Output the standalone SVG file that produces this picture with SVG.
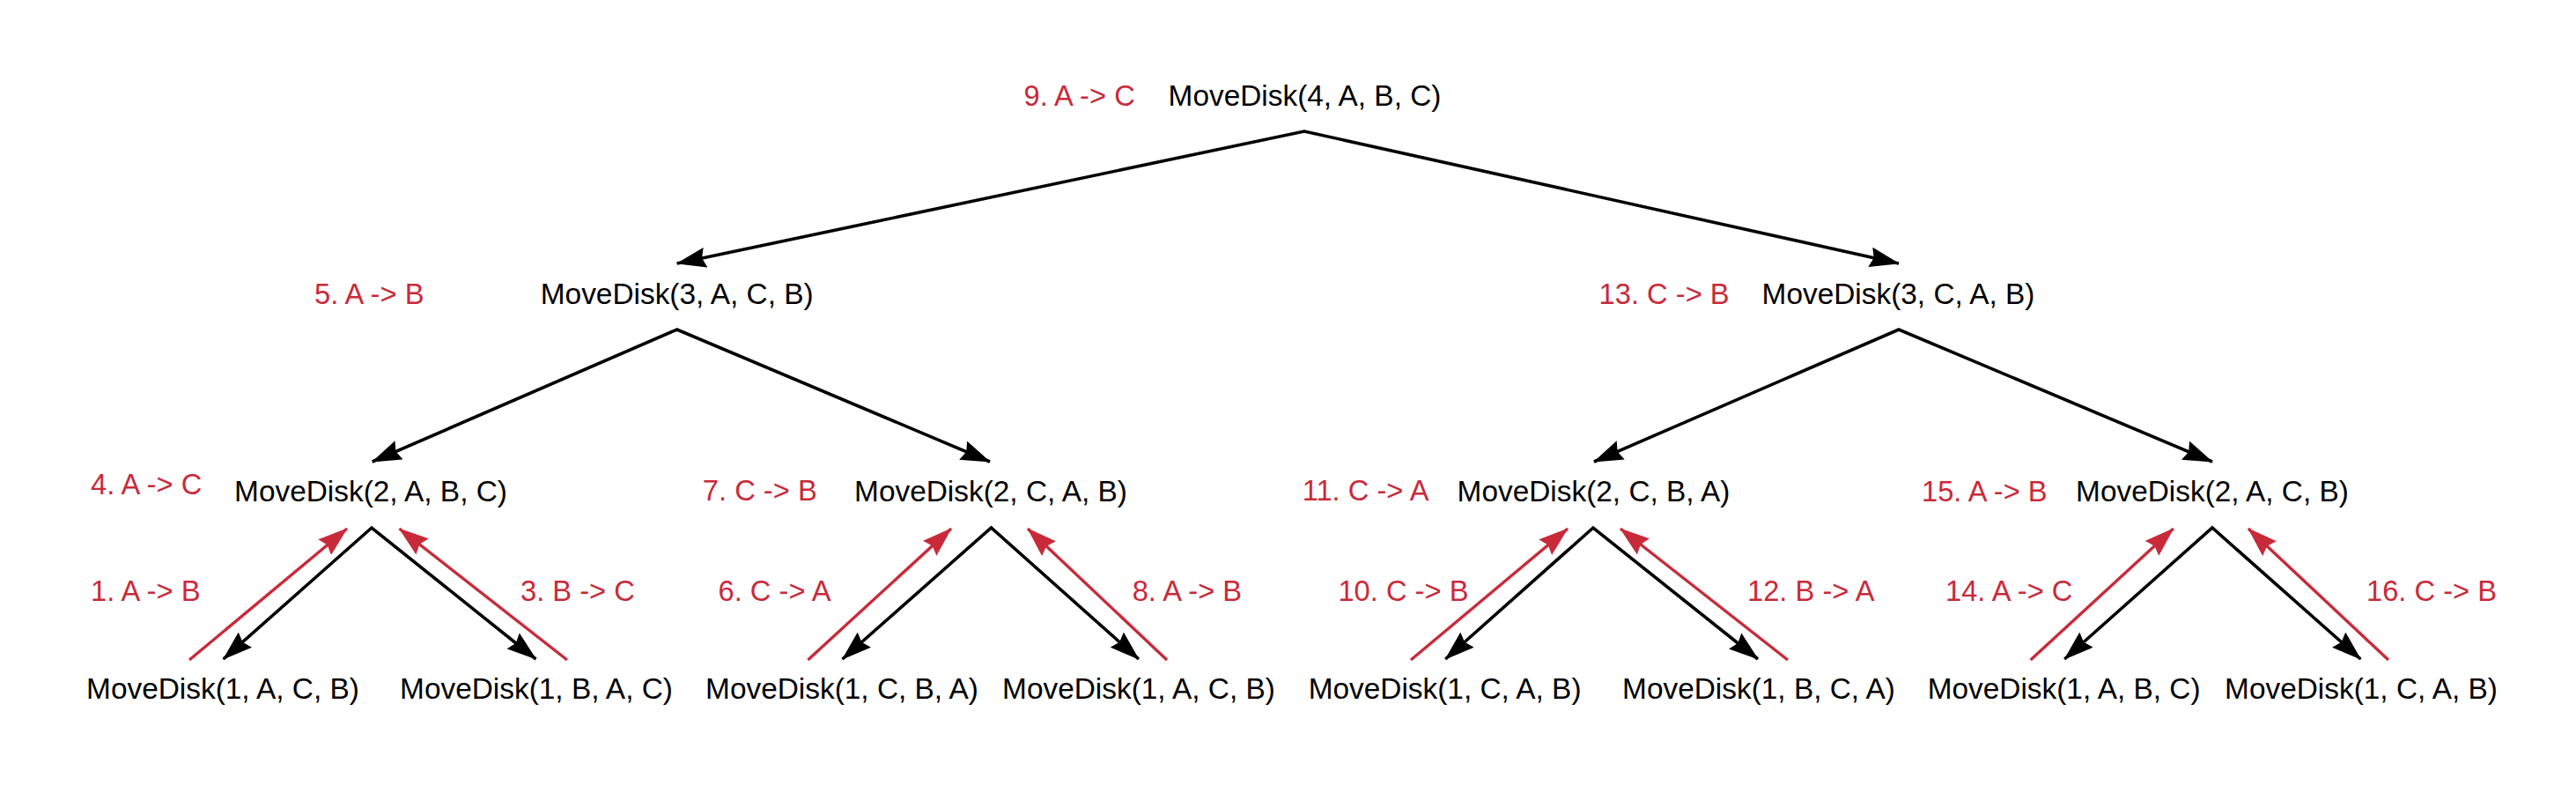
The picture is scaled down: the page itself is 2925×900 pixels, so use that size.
<svg xmlns="http://www.w3.org/2000/svg" width="2925" height="900" viewBox="0 0 2925 900">
<style>
.n{font-family:"Liberation Sans",Arial,sans-serif;font-size:33.4px;fill:#000;text-anchor:middle}
.m{font-family:"Liberation Sans",Arial,sans-serif;font-size:32.7px;fill:#C92A39}
.e{fill:none;stroke:#000;stroke-width:3.6;stroke-linejoin:miter;stroke-miterlimit:20;marker-start:url(#hb);marker-end:url(#hb2)}
.r{fill:none;stroke:#C92A39;stroke-width:3.4;marker-end:url(#hr)}
</style>
<defs>
<marker id="hb" viewBox="0 0 34 23" refX="33" refY="11.5" markerWidth="34" markerHeight="23" markerUnits="userSpaceOnUse" orient="auto-start-reverse"><path d="M0,0 L34,11.5 L0,23 L4,11.5 Z" fill="#000"/></marker>
<marker id="hb2" viewBox="0 0 34 23" refX="33" refY="11.5" markerWidth="34" markerHeight="23" markerUnits="userSpaceOnUse" orient="auto"><path d="M0,0 L34,11.5 L0,23 L4,11.5 Z" fill="#000"/></marker>
<marker id="hr" viewBox="0 0 34 23" refX="33" refY="11.5" markerWidth="34" markerHeight="23" markerUnits="userSpaceOnUse" orient="auto"><path d="M0,0 L34,11.5 L0,23 L4,11.5 Z" fill="#C92A39"/></marker>
</defs>
<rect width="2925" height="900" fill="#fff"/>
<g id="connectors">
<path class="e" d="M768.7,299 L1481,149 L2156,299"/>
<path class="e" d="M422.8,524 L768.7,374 L1124,524"/>
<path class="e" d="M1810,524 L2156,374 L2512,524"/>
<path class="e" d="M253.7,748 L422,599 L608.4,748"/>
<path class="e" d="M956.6,748 L1125.5,599 L1292.9,748"/>
<path class="e" d="M1641.3,748 L1809,599 L1996,748"/>
<path class="e" d="M2344.3,748 L2512,599 L2680.4,748"/>
<path class="r" d="M215,749 L394,600"/>
<path class="r" d="M644,749 L453.5,600"/>
<path class="r" d="M917.4,749 L1080,600"/>
<path class="r" d="M1325,749 L1167,600"/>
<path class="r" d="M1602,749 L1780,600"/>
<path class="r" d="M2030,749 L1840,600"/>
<path class="r" d="M2305.7,749 L2467.8,600"/>
<path class="r" d="M2712,749 L2553,600"/>
<text class="m" x="103" y="682">1. A -&gt; B</text>
<text class="m" x="591" y="682">3. B -&gt; C</text>
<text class="m" x="815.5" y="682">6. C -&gt; A</text>
<text class="m" x="1285.7" y="682">8. A -&gt; B</text>
<text class="m" x="1519.4" y="682">10. C -&gt; B</text>
<text class="m" x="1984" y="682">12. B -&gt; A</text>
<text class="m" x="2209" y="682">14. A -&gt; C</text>
<text class="m" x="2687" y="682">16. C -&gt; B</text>
</g>
<g id="n4ABC"><text class="m" x="1162.5" y="120">9. A -&gt; C</text><text class="n" x="1481.5" y="120">MoveDisk(4, A, B, C)</text></g>
<g id="n3ACB"><text class="m" x="357" y="345">5. A -&gt; B</text><text class="n" x="768.7" y="345">MoveDisk(3, A, C, B)</text></g>
<g id="n3CAB"><text class="m" x="1815.6" y="345">13. C -&gt; B</text><text class="n" x="2155.5" y="345">MoveDisk(3, C, A, B)</text></g>
<g id="n2ABC"><text class="m" x="103" y="561">4. A -&gt; C</text><text class="n" x="421" y="569">MoveDisk(2, A, B, C)</text></g>
<g id="n2CAB"><text class="m" x="797.8" y="568">7. C -&gt; B</text><text class="n" x="1125" y="569">MoveDisk(2, C, A, B)</text></g>
<g id="n2CBA"><text class="m" x="1478.7" y="568">11. C -&gt; A</text><text class="n" x="1809.5" y="569">MoveDisk(2, C, B, A)</text></g>
<g id="n2ACB"><text class="m" x="2182" y="569">15. A -&gt; B</text><text class="n" x="2512" y="569">MoveDisk(2, A, C, B)</text></g>
<g id="l1"><text class="n" x="253" y="793">MoveDisk(1, A, C, B)</text></g>
<g id="l2"><text class="n" x="609" y="793">MoveDisk(1, B, A, C)</text></g>
<g id="l3"><text class="n" x="956" y="793">MoveDisk(1, C, B, A)</text></g>
<g id="l4"><text class="n" x="1293" y="793">MoveDisk(1, A, C, B)</text></g>
<g id="l5"><text class="n" x="1640.6" y="793">MoveDisk(1, C, A, B)</text></g>
<g id="l6"><text class="n" x="1997" y="793">MoveDisk(1, B, C, A)</text></g>
<g id="l7"><text class="n" x="2343.6" y="793">MoveDisk(1, A, B, C)</text></g>
<g id="l8"><text class="n" x="2681" y="793">MoveDisk(1, C, A, B)</text></g>
</svg>
